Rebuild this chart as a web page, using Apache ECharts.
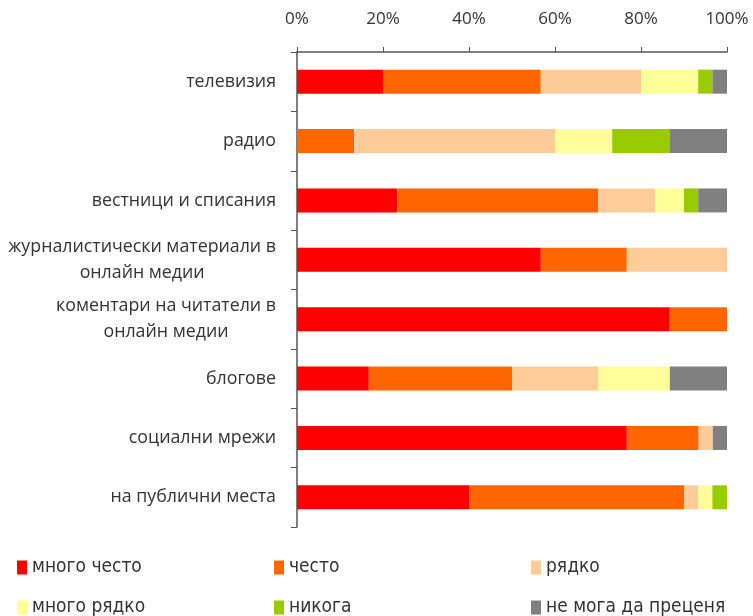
<!DOCTYPE html>
<html><head><meta charset="utf-8">
<script src="https://cdn.jsdelivr.net/npm/echarts@6/dist/echarts.min.js"></script>
<style>html,body{margin:0;padding:0;background:#fff}#c{width:753px;height:616px}</style>
</head><body><div id="c"></div>
<script>
const categories = ['телевизия','радио','вестници и списания','журналистически материали в\nонлайн медии','коментари на читатели в\nонлайн медии','блогове','социални мрежи','на публични места'];
const seriesNames = ['много често','често','рядко','много рядко','никога','не мога да преценя'];
const veryOften = [20, 0, 23.3, 56.7, 86.7, 16.7, 76.7, 40];
const often     = [36.7, 13.3, 46.7, 20, 13.3, 33.3, 16.7, 50];
const rarely    = [23.3, 46.7, 13.3, 23.3, 0, 20, 3.3, 3.3];
const veryRarely= [13.3, 13.3, 6.7, 0, 0, 16.7, 0, 3.3];
const never     = [3.3, 13.3, 3.3, 0, 0, 0, 0, 3.4];
const cannotSay = [3.4, 13.4, 6.7, 0, 0, 13.3, 3.3, 0];
const tickLabels = ['0%','20%','40%','60%','80%','100%'];
const colors = ['#FF0000','#FF6600','#FFCC99','#FFFF99','#99CC00','#808080'];
const values = [veryOften, often, rarely, veryRarely, never, cannotSay];

const chart = echarts.init(document.getElementById('c'));
const legendFont = "'Liberation Sans Narrow','DejaVu Sans Condensed','Open Sans',sans-serif";
chart.setOption({
  animation: false,
  color: colors,
  grid: {left: 297, right: 26, top: 52, bottom: 89, containLabel: false},
  legend: seriesNames.map((n, i) => ({
    data: [n], left: 17 + (i % 3) * 257, top: i < 3 ? 558 : 598, padding: 0,
    itemWidth: 10, itemHeight: 14, itemGap: 5, icon: 'rect',
    selectedMode: false,
    textStyle: {fontFamily: legendFont, fontSize: 19, color: '#333', padding: [0,0,0,0]}
  })),
  xAxis: {
    type: 'value', position: 'top', min: 0, max: 100, interval: 20,
    axisLine: {show: true, lineStyle: {color: '#555', width: 1.5}},
    axisTick: {show: true, length: 5, lineStyle: {color: '#555'}},
    splitLine: {show: false},
    axisLabel: {margin: 24, fontFamily: 'Open Sans', fontSize: 17, color: '#333',
      formatter: v => tickLabels[Math.round(v / 20)]}
  },
  yAxis: {
    type: 'category', data: categories, inverse: true,
    axisLine: {show: true, lineStyle: {color: '#555', width: 1.5}},
    axisTick: {show: true, length: 6, lineStyle: {color: '#555'}},
    axisLabel: {margin: 21, fontFamily: 'Open Sans', fontSize: 17.8, color: '#333', lineHeight: 26,
      formatter: v => v.split('\n').map(s => '{c|' + s + '}').join('\n'),
      rich: {c: {align: 'center', fontFamily: 'Open Sans', fontSize: 17.8, color: '#333', lineHeight: 26}}}
  },
  series: seriesNames.map((n, i) => ({
    name: n, type: 'bar', stack: 'total', barWidth: 24,
    data: values[i],
    itemStyle: {color: colors[i]}
  }))
});
</script></body></html>
